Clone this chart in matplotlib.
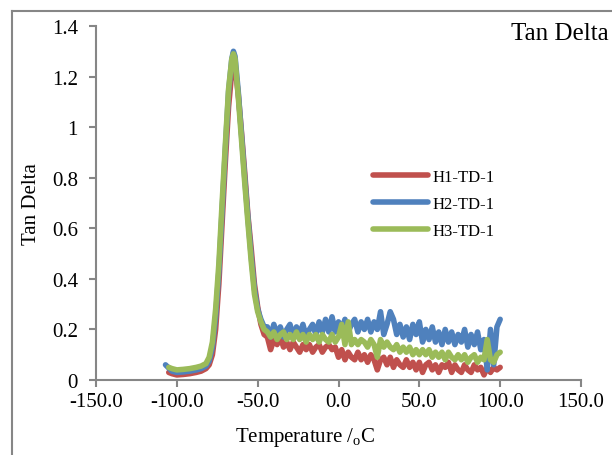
import numpy as np
import matplotlib
matplotlib.use("Agg")
import matplotlib.pyplot as plt
from matplotlib.lines import Line2D

plt.rcParams['font.family'] = ['Liberation Serif', 'DejaVu Serif']
plt.rcParams['mathtext.fontset'] = 'custom'
plt.rcParams['mathtext.rm'] = 'Liberation Serif'

# data
series = ['H1-TD-1', 'H2-TD-1', 'H3-TD-1']
colors = ['#C0504D', '#4F81BD', '#9BBB59']

start_t = [-105, -107, -105]
start_v = [0.03, 0.06, 0.05]

head_t = [-103, -100, -96, -92, -88, -85, -82, -80, -78, -76, -74, -72, -70,
          -68, -66, -65, -64, -62, -60, -58, -56, -54, -52, -50, -48, -46]
red_head = [0.025, 0.02, 0.022, 0.025, 0.03, 0.035, 0.045, 0.06, 0.10, 0.20,
            0.38, 0.62, 0.86, 1.08, 1.22, 1.25, 1.24, 1.13, 0.98, 0.82, 0.65,
            0.52, 0.38, 0.29, 0.22, 0.18]
blue_head = [0.035, 0.03, 0.032, 0.035, 0.04, 0.045, 0.055, 0.075, 0.13, 0.25,
             0.43, 0.67, 0.91, 1.14, 1.27, 1.30, 1.28, 1.14, 0.97, 0.80, 0.64,
             0.49, 0.36, 0.28, 0.24, 0.21]
green_head = [0.045, 0.04, 0.042, 0.045, 0.05, 0.055, 0.065, 0.09, 0.15, 0.28,
              0.46, 0.70, 0.93, 1.15, 1.27, 1.29, 1.27, 1.12, 0.95, 0.78, 0.62,
              0.47, 0.34, 0.27, 0.23, 0.20]

tail_t = np.arange(-44, 101, 2)
red_tail = [0.17, 0.12, 0.16, 0.14, 0.17, 0.13, 0.15, 0.12, 0.15, 0.13,
            0.11, 0.14, 0.12, 0.14, 0.11, 0.13, 0.14, 0.11, 0.13, 0.14,
            0.12, 0.13, 0.09, 0.12, 0.08, 0.11, 0.09, 0.08, 0.11, 0.08,
            0.10, 0.07, 0.10, 0.08, 0.04, 0.08, 0.09, 0.06, 0.09, 0.05,
            0.08, 0.06, 0.05, 0.08, 0.05, 0.07, 0.04, 0.07, 0.03, 0.06,
            0.07, 0.04, 0.06, 0.03, 0.06, 0.05, 0.07, 0.03, 0.06, 0.04,
            0.03, 0.06, 0.04, 0.03, 0.06, 0.04, 0.05, 0.02, 0.05, 0.03,
            0.05, 0.04, 0.05]
blue_tail = [0.21, 0.17, 0.22, 0.18, 0.21, 0.17, 0.20, 0.22, 0.17, 0.21,
             0.18, 0.22, 0.17, 0.20, 0.22, 0.18, 0.23, 0.19, 0.24, 0.19,
             0.25, 0.19, 0.23, 0.20, 0.24, 0.19, 0.22, 0.24, 0.19, 0.23,
             0.20, 0.24, 0.19, 0.23, 0.20, 0.27, 0.18, 0.22, 0.27, 0.24,
             0.18, 0.22, 0.17, 0.21, 0.16, 0.22, 0.18, 0.23, 0.15, 0.20,
             0.16, 0.21, 0.15, 0.19, 0.14, 0.20, 0.15, 0.19, 0.14, 0.18,
             0.15, 0.20, 0.13, 0.18, 0.14, 0.19, 0.12, 0.16, 0.04, 0.20,
             0.06, 0.21, 0.24]
green_tail = [0.19, 0.17, 0.19, 0.16, 0.18, 0.19, 0.16, 0.18, 0.16, 0.19,
              0.16, 0.18, 0.15, 0.18, 0.16, 0.18, 0.15, 0.18, 0.16, 0.15,
              0.18, 0.15, 0.17, 0.22, 0.14, 0.23, 0.14, 0.16, 0.14, 0.16,
              0.15, 0.13, 0.16, 0.14, 0.09, 0.16, 0.13, 0.15, 0.13, 0.12,
              0.14, 0.11, 0.13, 0.11, 0.13, 0.10, 0.12, 0.10, 0.12, 0.10,
              0.12, 0.09, 0.11, 0.09, 0.11, 0.08, 0.11, 0.09, 0.08, 0.10,
              0.08, 0.10, 0.07, 0.09, 0.10, 0.07, 0.09, 0.08, 0.16, 0.08,
              0.07, 0.10, 0.11]

heads = [red_head, blue_head, green_head]
tails = [red_tail, blue_tail, green_tail]

x_ticks = [-150, -100, -50, 0, 50, 100, 150]
y_ticks = [0, 0.2, 0.4, 0.6, 0.8, 1.0, 1.2, 1.4]
y_labels = ['0', '0.2', '0.4', '0.6', '0.8', '1', '1.2', '1.4']

W, H = 612, 456
fig = plt.figure(figsize=(W / 100, H / 100), dpi=100)
ax = fig.add_axes([96 / W, 1 - 381 / H, (581 - 96) / W, (381 - 27) / H])

# outer chart frame (cut off at right and bottom)
grey = '#868686'
fig.add_artist(Line2D([12 / W, 12 / W], [-0.1, 1 - 12 / H], color=grey, lw=1.5))
fig.add_artist(Line2D([12 / W, 1.1], [1 - 12 / H, 1 - 12 / H], color=grey, lw=1.5))

for name, c, t0, v0, hv, tv in zip(series, colors, start_t, start_v, heads, tails):
    assert len(hv) == len(head_t) and len(tv) == len(tail_t)
    t = np.concatenate([[t0], head_t, tail_t])
    v = np.concatenate([[v0], hv, tv])
    ax.plot(t, v, color=c, lw=4, solid_capstyle='round',
            solid_joinstyle='round', label=name)

ax.set_xlim(-150, 150)
ax.set_ylim(0, 1.4)
ax.set_xticks(x_ticks)
ax.set_xticklabels(['%.1f' % x for x in x_ticks])
ax.set_yticks(y_ticks)
ax.set_yticklabels(y_labels)

for s in ['top', 'right']:
    ax.spines[s].set_visible(False)
for s in ['left', 'bottom']:
    ax.spines[s].set_color(grey)
    ax.spines[s].set_linewidth(1.5)
ax.tick_params(axis='both', direction='out', length=5, width=1.5, color=grey,
               labelsize=15)
ax.tick_params(axis='y', pad=8)
ax.tick_params(axis='x', pad=4)

ax.set_xlabel(r'Temperature /$_{\rm o}$C', fontsize=15)
ax.xaxis.set_label_coords(0.431, -0.161)
ax.xaxis.label.set_va('center')
ax.set_ylabel('Tan Delta', fontsize=15)
ax.yaxis.set_label_coords(-0.134, 0.5)
ax.yaxis.label.set_va('center')

fig.text(511 / W, 1 - 40 / H, 'Tan Delta', fontsize=18, ha='left', va='baseline')

ax.legend(loc='upper left', bbox_to_anchor=(373 / W, 1 - 170 / H),
          bbox_transform=fig.transFigure, frameon=False, fontsize=12,
          handlelength=3.3, handletextpad=0.25, labelspacing=0.65,
          borderpad=0, borderaxespad=0)

fig.savefig('out.png', dpi=100)
